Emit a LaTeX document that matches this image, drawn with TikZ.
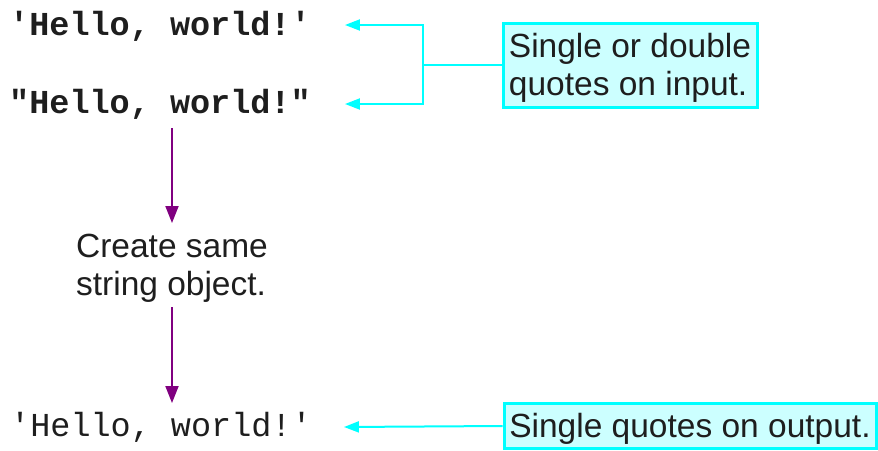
\documentclass[tikz,border=0pt]{standalone}
\usepackage{fontspec}
\setmainfont{Liberation Sans}
\setmonofont{Liberation Mono}
\usetikzlibrary{arrows.meta,calc}
\definecolor{txt}{HTML}{1E1E1E}
\definecolor{cyanline}{HTML}{00FFFF}
\definecolor{cyanfill}{HTML}{CCFFFF}
\definecolor{purp}{HTML}{800080}
\tikzset{
  code/.style={font=\fontsize{33.5}{38}\selectfont\ttfamily, text=txt, inner sep=0pt},
  plain/.style={font=\fontsize{33.5}{38}\selectfont, text=txt, inner sep=0pt, align=left},
  notebox/.style={draw=cyanline, fill=cyanfill, line width=3pt, inner sep=0pt},
  cyanarrow/.style={draw=cyanline, line width=2pt, -{Triangle[length=15pt,width=11pt]}},
  purparrow/.style={draw=purp, line width=2pt, -{Triangle[length=17pt,width=13pt]}}
}
\begin{document}
\begin{tikzpicture}[x=1pt,y=-1pt]
\useasboundingbox (0,0) rectangle (878,450);
\node[code, anchor=west] (t1) at (9,26) {\bfseries 'Hello, world!'};
\node[code, anchor=west] (t2) at (9,104) {\bfseries "Hello, world!"};
\node[plain] (create) at (172,268) {Create same\\string object.};
\node[code, anchor=west] (t3) at (10,427) {'Hello, world!'};
\node[notebox, minimum width=254pt, minimum height=84pt] (box1) at (630,65) {};
\node[plain] (box1text) at (630,68) {Single or double\\quotes on input.};
\node[notebox, minimum width=372pt, minimum height=45pt] (box2) at (690,426) {};
\node[plain] (box2text) at (690,429) {Single quotes on output.};
\coordinate (j) at (423,65);
\draw[cyanarrow] (box1.west) -- (j) |- ($(t1.east)+(34,-1)$);
\draw[cyanarrow] (j) |- ($(t2.east)+(34,0)$);
\draw[cyanarrow] (box2.west) -- ($(t3.east)+(32,0)$);
\draw[purparrow] (172,128) -- (create.north |- 0,223);
\draw[purparrow] (172,307) -- (172,403);
\end{tikzpicture}
\end{document}
